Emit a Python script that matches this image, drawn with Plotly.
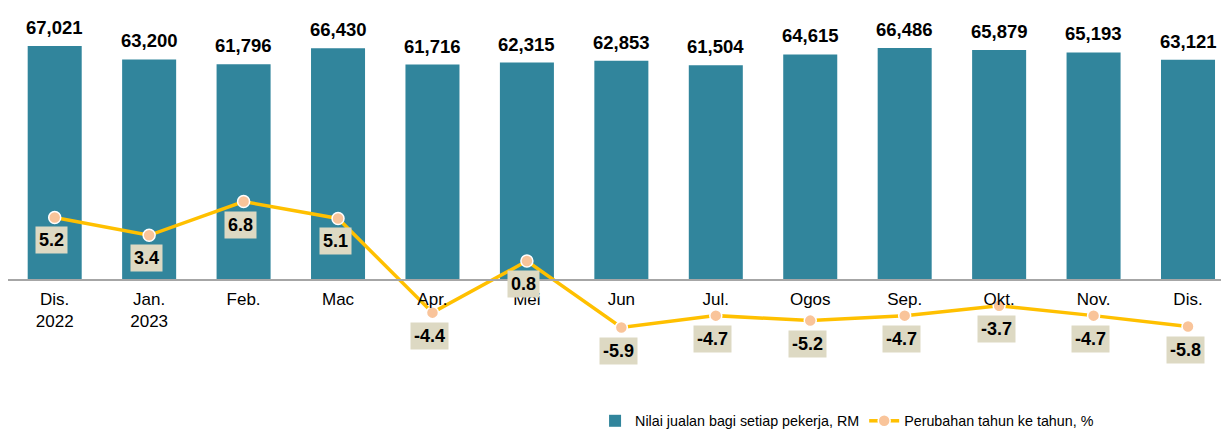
import plotly.graph_objects as go

categories = ["Dis.<br>2022", "Jan.<br>2023", "Feb.", "Mac", "Apr.", "Mei", "Jun",
              "Jul.", "Ogos", "Sep.", "Okt.", "Nov.", "Dis."]
sales_per_worker = [67021, 63200, 61796, 66430, 61716, 62315, 62853,
                    61504, 64615, 66486, 65879, 65193, 63121]
yoy_change = [5.2, 3.4, 6.8, 5.1, -4.4, 0.8, -5.9, -4.7, -5.2, -4.7, -3.7, -4.7, -5.8]

bar_name = "Nilai jualan bagi setiap pekerja, RM"
line_name = "Perubahan tahun ke tahun, %"

FONT = "Liberation Sans, Arial, sans-serif"
TEAL = "#31859C"
GOLD = "#FFC000"

fig = go.Figure()
fig.add_trace(go.Bar(
    x=categories, y=sales_per_worker, name=bar_name,
    marker=dict(color=TEAL, line=dict(width=0)),
    yaxis="y",
))
fig.add_trace(go.Scatter(
    x=categories, y=yoy_change, name=line_name, mode="lines+markers",
    line=dict(color=GOLD, width=3.5),
    marker=dict(size=12, color="#F9C49A", line=dict(color="white", width=1.5)),
    yaxis="y2", cliponaxis=False,
))

# bar value labels
for c, v in zip(categories, sales_per_worker):
    fig.add_annotation(
        x=c, y=v, xref="x", yref="y", text=f"<b>{v:,}</b>", showarrow=False,
        yanchor="middle", yshift=18.5,
        font=dict(size=18.5, color="black", family=FONT),
    )

# line value labels
for c, v in zip(categories, yoy_change):
    fig.add_annotation(
        x=c, y=v, xref="x", yref="y2", text=f"<b>{v}</b>", showarrow=False,
        yshift=-23, xshift=-3, bgcolor="#DDD9C3", borderpad=3,
        font=dict(size=18, color="black", family=FONT),
    )

fig.update_layout(
    width=1221, height=423,
    margin=dict(l=0, r=0, t=2, b=56, autoexpand=False),
    plot_bgcolor="white", paper_bgcolor="white",
    font=dict(family=FONT, size=17, color="black"),
    bargap=0.428,
    showlegend=True,
    legend=dict(orientation="h", x=0.4808, xanchor="left", yref="paper",
                y=-0.126, yanchor="middle", font=dict(size=14.3, color="black"),
                bgcolor="rgba(0,0,0,0)"),
    xaxis=dict(type="category", range=[-0.4945, 12.434], anchor="free",
               position=0.2603, showline=True, linecolor="#A6A6A6", linewidth=1.5,
               ticks="", showgrid=False, zeroline=False, ticklabelstandoff=4,
               tickfont=dict(size=17, color="black", family=FONT)),
    yaxis=dict(range=[-27221, 77364], visible=False, showgrid=False, zeroline=False),
    yaxis2=dict(range=[-10.685, 26.11], overlaying="y", visible=False,
                showgrid=False, zeroline=False),
)

fig.write_html("out.html")
